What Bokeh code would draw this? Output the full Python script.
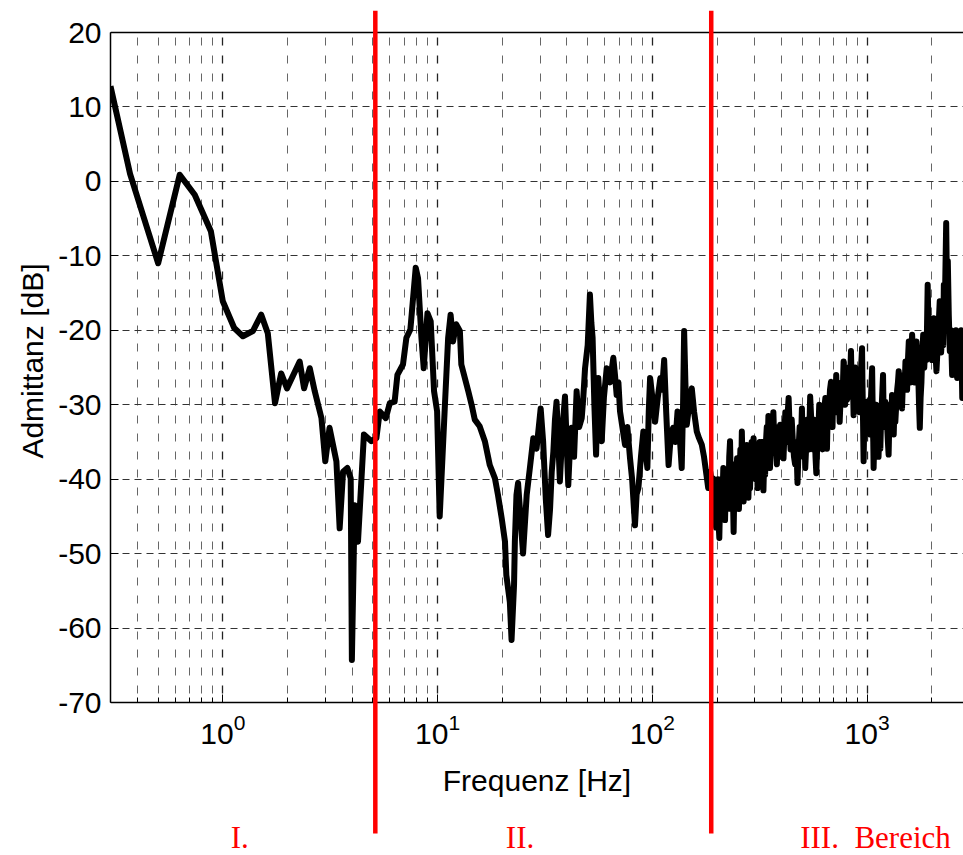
from bokeh.plotting import figure
from bokeh.models import (Range1d, FixedTicker, Arrow, Label, Span, BoxAnnotation,
                          CustomJSTickFormatter, Title)
from bokeh.embed import file_html
from bokeh.resources import INLINE

# ---------------- data ----------------
# Region I (0.3 Hz .. ~6.5 Hz)
freq_r1 = [0.30, 0.37, 0.50, 0.63, 0.74, 0.88, 1.00, 1.13, 1.24, 1.38, 1.51, 1.62, 1.75, 1.87, 1.99,
           2.28, 2.39, 2.54, 2.68, 2.88, 3.00, 3.14, 3.38, 3.50, 3.63, 3.80, 3.94, 3.99, 4.11, 4.26,
           4.54, 4.92, 5.19, 5.38, 5.74, 5.99, 6.31]
db_r1 = [12.8, 1.0, -11.0, 0.9, -1.8, -6.7, -16.1, -19.7, -20.8, -20.1, -17.9, -20.4, -29.8, -25.8, -27.8,
         -24.2, -27.8, -25.1, -28.2, -31.8, -37.6, -33.1, -37.6, -46.6, -39.0, -38.5, -39.9, -64.3, -43.5, -48.4,
         -34.0, -34.9, -34.5, -30.9, -31.8, -29.8, -29.6]

# Region II (~6.5 Hz .. ~190 Hz)
freq_r2 = [6.50, 6.90, 7.16, 7.47, 7.91, 8.11, 8.41, 8.62,
           8.97, 9.29, 9.63, 9.95, 10.23, 10.8, 11.2, 11.5, 11.8, 12.2, 12.7, 12.9, 13.9, 14.4, 14.9,
           15.7, 16.6, 17.5, 18.5, 19.1, 19.9, 20.6, 20.9, 21.7, 22.1, 22.7, 22.9, 23.3, 23.7, 25.0,
           26.0, 26.9, 27.9, 28.9, 30.2, 31.0, 31.9, 32.7, 33.4, 34.0, 34.6, 35.2, 35.8, 36.5, 37.1,
           38.2, 39.2, 40.0, 40.6, 41.3, 42.1, 43.2, 44.4, 45.6, 46.9, 47.7, 48.6, 50.0, 51.2, 52.0,
           52.7, 53.7, 54.7, 55.3, 56.0, 57.0, 58.1, 59.5, 61.3, 63.5, 65.8, 67.0, 68.2, 69.5, 70.7,
           72.5, 74.6, 76.5, 78.7, 80.5, 83.0, 84.5, 86.1, 88.5, 90.8, 92.8, 94.8, 96.2, 97.6, 100,
           103, 106, 109, 111, 113.5, 116, 119, 122, 125, 128, 131, 134, 137, 139, 140.6,
           142.5, 144.6, 148.5, 152.6, 156.5, 161, 165, 170, 174, 179.5, 182, 186, 189]
db_r2 = [-26.0, -24.6, -21.0, -19.9, -11.6, -13.0, -21.0, -25.1,
         -17.7, -18.8, -28.2, -30.9, -45.0, -30.5, -21.0, -17.9, -21.5, -19.2, -20.1, -24.6, -28.2, -30.0, -32.0,
         -32.9, -34.9, -38.1, -39.9, -42.1, -45.3, -48.4, -52.9, -56.5, -61.6, -54.2, -48.4, -42.1, -40.5, -50.0,
         -42.1, -38.5, -34.5, -35.9, -30.5, -34.9, -42.6, -47.5, -44.0, -39.0, -36.3, -32.0, -29.6, -35.0, -40.3,
         -33.0, -28.9, -36.0, -40.8, -36.0, -33.1, -37.0, -28.2, -33.0, -31.8, -29.0, -25.1, -22.0, -15.2, -19.0,
         -21.0, -30.0, -36.7, -31.0, -26.4, -30.0, -34.9, -29.0, -25.1, -27.0, -23.7, -26.0, -28.7, -27.0, -30.9,
         -33.0, -35.4, -33.0, -37.2, -40.0, -46.2, -42.0, -41.2, -37.0, -33.6, -36.0, -38.5, -31.0, -26.4, -29.0,
         -32.3, -29.0, -26.4, -28.0, -24.0, -31.0, -38.1, -34.0, -33.1, -35.0, -30.9, -34.0, -38.5, -30.0, -20.1,
         -27.0, -32.7, -30.0, -27.8, -31.0, -33.6, -34.5, -35.4, -37.0, -39.9, -41.2, -39.0, -40.3]

# Region III (~190 Hz .. 2810 Hz)
freq_r3 = [192, 194, 196, 198, 200, 202, 203.5, 205, 207, 209, 211.5, 214, 216, 218, 220, 222, 224, 226,
           228, 230, 232, 234, 236.5, 239, 241, 243, 245.5, 248, 250.5, 253, 255, 257, 259, 261, 263.5,
           266, 268, 270, 272.5, 275, 277.5, 280, 282.5, 285, 287.5, 290, 293, 296, 299, 302, 305.5,
           309, 312.5, 316, 320, 324, 326.5, 329, 332, 335, 338, 341, 344, 347, 350, 353, 356.5, 360,
           363, 366, 369.5, 373, 376.5, 380, 383.5, 387, 390.5, 394, 397.5, 401, 404.5, 408, 412, 416,
           419.5, 423, 427, 431, 435.5, 440, 445.5, 451, 456.5, 462, 468, 474, 479.5, 485, 491, 497,
           501.5, 506, 510.5, 515, 521.5, 528, 535.5, 543, 551.5, 560, 565, 570, 575, 580, 586, 592,
           598.5, 605, 612.5, 620, 629.5, 639, 644.5, 650, 657, 664, 671.5, 679, 684.5, 690, 695, 700,
           709, 718, 724, 730, 737.5, 745, 752.5, 760, 768.5, 777, 783.5, 790, 798, 806, 813, 820,
           830.5, 841, 847, 853, 859, 865, 872.5, 880, 888.5, 897, 908.5, 920, 933.5, 947, 951, 955,
           959, 963, 971.5, 980, 990, 1000, 1015, 1030, 1042.5, 1055, 1059.5, 1064, 1068, 1072, 1081,
           1090, 1101, 1112, 1121, 1130, 1141, 1152, 1161, 1170, 1178, 1186, 1193, 1200, 1208, 1216,
           1228, 1240, 1249.5, 1259, 1269.5, 1280, 1293, 1306, 1318, 1330, 1341.5, 1353, 1366.5, 1380,
           1391.5, 1403, 1416.5, 1430, 1442, 1454, 1467, 1480, 1494, 1508, 1521.5, 1535, 1549, 1563,
           1576.5, 1590, 1605, 1620, 1640, 1660, 1678.5, 1697, 1713.5, 1730, 1744.5, 1759, 1774.5,
           1790, 1807, 1824, 1845, 1867, 1890, 1914, 1940, 1971, 2005, 2043, 2070, 2103, 2140, 2178,
           2210, 2244, 2260, 2276, 2300, 2334, 2355, 2375, 2400, 2427, 2455, 2488, 2520, 2553, 2590,
           2626, 2660, 2700, 2740, 2773, 2810]
db_r3 = [-39.9, -45, -42, -46.5, -43.9, -40, -46, -47.9, -42, -40, -44, -38.5, -43, -45.5, -40, -39, -44, -43.0,
         -37, -34.9, -41, -44, -40, -47.1, -41, -38, -43, -37.2, -41, -44, -39, -36, -40, -33.6, -39,
         -43.0, -38, -37, -41, -35.4, -39, -42.5, -38, -41.2, -37, -35, -39, -34.5, -38, -40, -36,
         -41.2, -37, -35, -39, -37.2, -35, -41.5, -37, -39.4, -35, -33, -36, -31.5, -36, -38.5, -34, -35.8,
         -33, -31, -35, -33.6, -36, -38, -34, -33, -36, -32.7, -36, -37, -33, -37.2, -34, -31,
         -34, -35, -31, -29.1, -33, -36, -32, -34.9, -37, -38, -35, -40.5, -36, -33, -36, -30.5,
         -35, -37, -33, -38.5, -35, -32, -36, -28.9, -33, -36, -32, -33, -37, -39.2, -35, -34,
         -30, -32.3, -35, -36, -31, -29.1, -33, -35.9, -30, -31, -28, -26.9, -31, -33, -28, -29,
         -31, -26.0, -29, -31, -28, -32.3, -29, -27, -29, -24.2, -28, -30, -26, -29.3, -27, -25,
         -28, -22.8, -27, -29, -27, -31.4, -27, -25, -29, -26.9, -28, -31, -26, -22.4, -27, -30,
         -34, -37.6, -31, -33, -31, -29.6, -32, -34, -29, -25.1, -29, -33, -35, -38.5, -34,
         -34, -30, -31.4, -34, -37, -33, -35.9, -32, -30, -28, -26.0, -31, -33, -31, -29.6,
         -31, -33, -35, -36.7, -32, -30, -33, -28.7, -31, -34, -30, -32.3, -30, -28,
         -27, -25.5, -28, -30, -27, -30.5, -27, -26, -28, -24.2, -26, -28, -24, -21.5,
         -24, -27, -23, -20.6, -24, -27, -23, -21.5, -24, -26, -30, -33.1, -29,
         -27, -23, -20.6, -25, -21.9, -24, -13.9, -23, -19.7, -24, -18.4, -22, -25.5, -21, -16.1,
         -23, -19.7, -22, -13.9, -17, -5.6, -15, -10.7, -18, -22.8, -20, -26.0, -21, -23.3, -20,
         -26.4, -21, -22.8, -20, -29.1, -23.7]

freq_hz = freq_r1 + freq_r2 + freq_r3
admittance_db = db_r1 + db_r2 + db_r3

x_major_ticks = [1, 10, 100, 1000]
x_minor_ticks = [0.3, 0.4, 0.5, 0.6, 0.7, 0.8, 0.9,
                 2, 3, 4, 5, 6, 7, 8, 9,
                 20, 30, 40, 50, 60, 70, 80, 90,
                 200, 300, 400, 500, 600, 700, 800, 900,
                 2000]
y_ticks = [-70, -60, -50, -40, -30, -20, -10, 0, 10, 20]
y_axis_min, y_axis_max = -70, 20

region_bounds_hz = [5.13, 188]
region_labels = ["I.", "II.", "III.\u00a0 Bereich"]
region_label_x_hz = [1.2, 24.2, 488]

# ---------------- layout constants ----------------
W, H = 963, 855
FRAME_LEFT, FRAME_TOP_PX, AXIS_TOP_PX, AXIS_BOTTOM_PX = 110, 10, 32, 702
px_per_db = (AXIS_BOTTOM_PX - AXIS_TOP_PX) / (y_axis_max - y_axis_min)
y_view_top = y_axis_max + (AXIS_TOP_PX - FRAME_TOP_PX) / px_per_db
y_view_bottom = y_axis_min - (H - AXIS_BOTTOM_PX) / px_per_db

def px_to_db(py):
    return y_axis_max - (py - AXIS_TOP_PX) / px_per_db

SANS = "Liberation Sans"
p = figure(width=W, height=H, x_axis_type="log",
           x_range=Range1d(0.3, 2810), y_range=Range1d(y_view_bottom, y_view_top),
           output_backend="svg", toolbar_location=None,
           min_border_left=FRAME_LEFT, min_border_right=0,
           min_border_top=FRAME_TOP_PX, min_border_bottom=0,
           background_fill_color="white", border_fill_color="white")
p.outline_line_color = None

# grid
p.xgrid.grid_line_color = "#222222"
p.xgrid.grid_line_width = 1.3
p.xgrid.grid_line_dash = "8 10"
p.xgrid.minor_grid_line_color = "#666666"
p.xgrid.minor_grid_line_width = 1
p.xgrid.minor_grid_line_dash = "8 10"
p.ygrid.grid_line_color = "#333333"
p.ygrid.grid_line_width = 1
p.ygrid.grid_line_dash = "7 5"

# mask grid outside the axes box
p.add_layout(BoxAnnotation(top=y_axis_min, fill_color="white", fill_alpha=1.0,
                           line_color=None, level="underlay"))
p.add_layout(BoxAnnotation(bottom=y_axis_max, fill_color="white", fill_alpha=1.0,
                           line_color=None, level="underlay"))

p.line(freq_hz, admittance_db, line_color="black", line_width=6, line_join="round")

# axes
p.xaxis.ticker = FixedTicker(ticks=x_major_ticks, minor_ticks=x_minor_ticks)
p.yaxis.ticker = FixedTicker(ticks=y_ticks)
p.yaxis.formatter = CustomJSTickFormatter(code="return tick.toFixed(0)")
p.xaxis.fixed_location = y_axis_min
p.yaxis.bounds = (y_axis_min, y_axis_max)
p.xaxis.axis_label = "Frequenz [Hz]"
for ax in (p.xaxis, p.yaxis):
    ax.axis_label_text_font = SANS
    ax.axis_label_text_font_size = "30px"
    ax.axis_label_text_font_style = "normal"
    ax.axis_label_text_color = "black"
    ax.major_label_text_font = SANS
    ax.major_label_text_font_size = "30px"
    ax.major_label_text_color = "black"
    ax.axis_line_color = "black"
    ax.axis_line_width = 1.5
    ax.major_tick_line_color = "black"
    ax.major_tick_in = 8
    ax.major_tick_out = 0
p.xaxis.minor_tick_line_color = "black"
p.xaxis.minor_tick_in = 5
p.xaxis.minor_tick_out = 0
p.yaxis.minor_tick_line_color = None
p.xaxis.major_label_standoff = 11
p.xaxis.axis_label_standoff = 17
p.yaxis.major_label_standoff = 9

# y-axis title, placed against the axes box rather than the whole frame
p.add_layout(Title(text="Admittanz [dB]", align="right", offset=253,
                   text_font=SANS, text_font_size="30px", text_font_style="normal",
                   text_color="black", standoff=13), "left")

# top border
p.add_layout(Span(location=y_axis_max, dimension="width", line_color="black", line_width=1.5))

# region separators
y_lo, y_hi = px_to_db(833), px_to_db(10)
for b in region_bounds_hz:
    p.add_layout(Arrow(end=None, x_start=b, y_start=y_lo, x_end=b, y_end=y_hi,
                       line_color="#ff0000", line_width=4.5, level="overlay"))

aligns = ["center", "center", "left"]
for txt, xl, al in zip(region_labels, region_label_x_hz, aligns):
    p.add_layout(Label(x=xl, y=px_to_db(837), text=txt, text_color="#ff0000",
                       text_font="Liberation Serif", text_font_size="31px",
                       text_align=al, text_baseline="middle", level="overlay"))

open("out.html", "w").write(file_html(p, INLINE))
